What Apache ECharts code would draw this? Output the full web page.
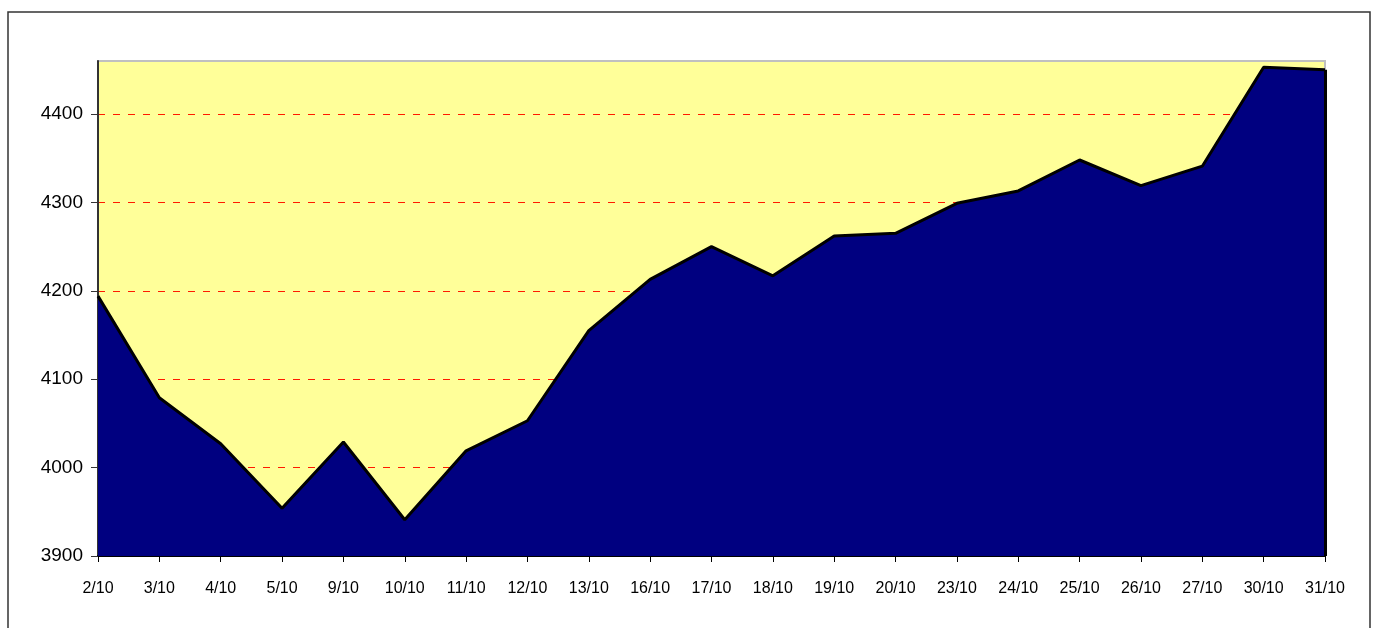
<!DOCTYPE html>
<html>
<head>
<meta charset="utf-8">
<script src="https://cdn.jsdelivr.net/npm/echarts@6/dist/echarts.min.js"></script>
<style>
html, body { margin: 0; padding: 0; background: #fff; }
#chart { width: 1377px; height: 628px; }
</style>
</head>
<body>
<div id="chart"></div>
<script>
// dates along the bottom
var days = ['2/10', '3/10', '4/10', '5/10', '9/10', '10/10', '11/10', '12/10', '13/10', '16/10',
    '17/10', '18/10', '19/10', '20/10', '23/10', '24/10', '25/10', '26/10', '27/10', '30/10', '31/10'];
// closing values
var closes = [4194, 4079, 4027, 3954, 4029, 3941, 4019, 4053, 4155, 4213,
    4250, 4217, 4262, 4265, 4299, 4313, 4348, 4319, 4341, 4453, 4450];
var yMin = 3900, yMax = 4460, yStep = 100;

var chart = echarts.init(document.getElementById('chart'));
var lastDay = days[days.length - 1];
var lastVal = closes[closes.length - 1];

var option = {
    animation: false,
    textStyle: { fontFamily: 'Liberation Sans, Arial, sans-serif' },
    graphic: [{
        type: 'rect',
        shape: { x: 8, y: 12, width: 1362, height: 640 },
        style: { fill: 'none', stroke: '#333', lineWidth: 1.5 },
        silent: true
    }],
    grid: {
        left: 98, right: 52, top: 61, bottom: 72,
        show: true,
        backgroundColor: '#ffff99',
        borderColor: '#c0c0c0',
        borderWidth: 2
    },
    xAxis: {
        type: 'category',
        data: days,
        boundaryGap: false,
        axisLine: { lineStyle: { color: '#000', width: 2 } },
        axisTick: { show: true, alignWithLabel: true, length: 6, lineStyle: { color: '#000' } },
        axisLabel: { color: '#000', fontSize: 16, margin: 25, interval: 0 },
        splitLine: { show: false }
    },
    yAxis: {
        type: 'value',
        min: yMin,
        max: yMax,
        interval: yStep,
        axisLine: { show: true, lineStyle: { color: '#333', width: 2 } },
        axisTick: { show: true, length: 7, lineStyle: { color: '#333' } },
        axisLabel: {
            color: '#000', fontSize: 19, margin: 15, showMaxLabel: false,
            formatter: function (v) { return String(v); }
        },
        splitLine: {
            show: true,
            showMinLine: false,
            showMaxLine: false,
            lineStyle: { color: '#ff1a00', type: [7, 8], width: 1 }
        }
    },
    series: [{
        type: 'line',
        data: closes,
        symbol: 'none',
        lineStyle: { color: '#000', width: 3 },
        areaStyle: { color: '#000080', opacity: 1, origin: 'start' },
        markLine: {
            silent: true,
            symbol: 'none',
            label: { show: false },
            lineStyle: { color: '#000', width: 3, type: 'solid' },
            data: [[{ coord: [lastDay, yMin] }, { coord: [lastDay, lastVal] }]]
        }
    }]
};
chart.setOption(option);
</script>
</body>
</html>
